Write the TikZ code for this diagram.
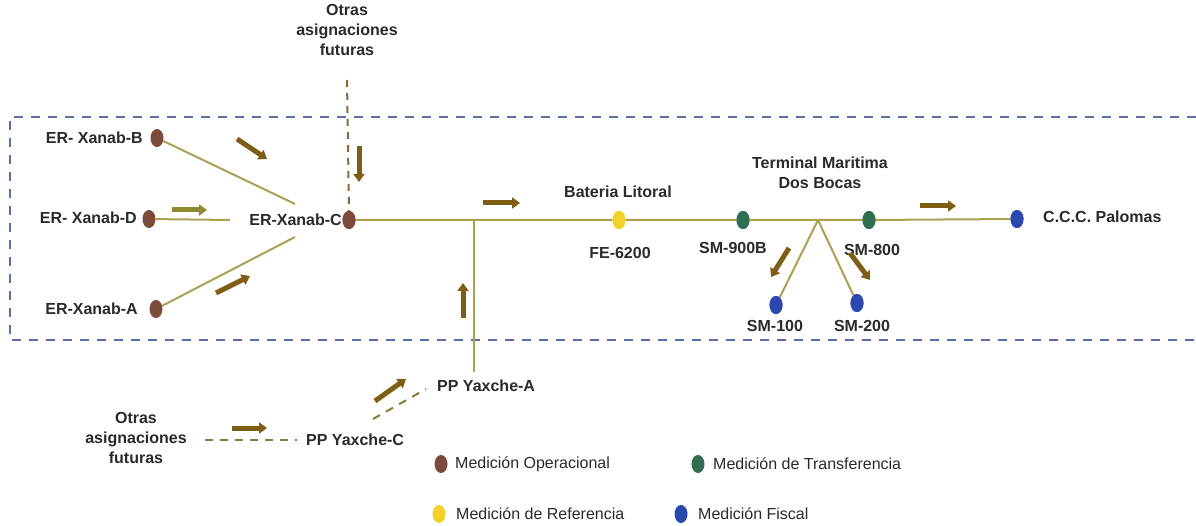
\documentclass[tikz,border=0pt]{standalone}
\usepackage{fontspec}
\setmainfont{Liberation Sans}
\usetikzlibrary{arrows.meta,shapes.geometric}
\definecolor{pipe}{HTML}{ADA053}
\definecolor{flow}{HTML}{7D5E14}
\definecolor{flowb}{HTML}{8F8A2E}
\definecolor{boxc}{HTML}{5A6FAA}
\definecolor{futc}{HTML}{8A6A35}
\definecolor{futc2}{HTML}{8C7A30}
\definecolor{opc}{HTML}{7B4A3A}
\definecolor{trc}{HTML}{2F6F4F}
\definecolor{rfc}{HTML}{F0D22A}
\definecolor{fic}{HTML}{2B48B0}
\definecolor{txt}{HTML}{2A2A2A}
\tikzset{
  lbl/.style={font=\fontsize{16}{20}\selectfont\bfseries, text=txt, inner sep=0pt, align=center},
  leg/.style={font=\fontsize{16}{20}\selectfont, text=txt, inner sep=0pt, anchor=west},
  dot/.style={ellipse, minimum width=13pt, minimum height=18pt, inner sep=0pt, fill=#1},
  pipeline/.style={draw=pipe, line width=2pt},
  flowarrow/.style={draw=flow, line width=5pt, -{Triangle[length=8pt,width=11pt]}},
  flowarrowb/.style={draw=flowb, line width=5pt, -{Triangle[length=8pt,width=11pt]}},
  boxline/.style={draw=boxc, line width=1.8pt, dash pattern=on 9pt off 8pt},
  futline/.style={draw=futc, line width=2pt, dash pattern=on 7pt off 6pt},
  futline2/.style={draw=futc2, line width=2pt, dash pattern=on 8pt off 7pt},
}
\begin{document}
\begin{tikzpicture}[x=1pt,y=-1pt]
\useasboundingbox[fill=white] (0,0) rectangle (1196,526);
% dashed boundary
\draw[boxline] (1196,117) -- (10,117) -- (10,340) -- (1196,340);

% top "otras"
\node[lbl] (otras1) at (347,30) {Otras\\asignaciones\\futuras};
\coordinate (futtop) at (347,80);

% nodes
\node[dot=opc] (erB) at (157,138) {};
\node[lbl, anchor=east] (erBl) at (143,138) {ER- Xanab-B};
\node[dot=opc] (erD) at (149,219) {};
\node[lbl, anchor=east] (erDl) at (137,218) {ER- Xanab-D};
\node[dot=opc] (erA) at (156,309) {};
\node[lbl, anchor=east] (erAl) at (138,309) {ER-Xanab-A};
\node[dot=opc] (erC) at (349,220) {};
\node[lbl, anchor=east] (erCl) at (342,220) {ER-Xanab-C};

\coordinate (cB) at (295,204);
\coordinate (cD) at (230,220);
\coordinate (cA) at (295,237);
\coordinate (j1) at (474,220);
\coordinate (jT) at (818,220);
\coordinate (ppA) at (474,372);

\node[dot=rfc] (fe) at (619,220) {};
\node[dot=trc] (sm900) at (743,220) {};
\node[dot=trc] (sm800) at (869,220) {};
\node[dot=fic] (pal) at (1017,219) {};
\node[dot=fic] (sm100) at (776,305) {};
\node[dot=fic] (sm200) at (857,303) {};

\node[lbl] (batl) at (618,192) {Bateria Litoral};
\node[lbl] (fel) at (620,253) {FE-6200};
\node[lbl] (sm900l) at (733,248) {SM-900B};
\node[lbl] (term) at (820,173) {Terminal Maritima\\Dos Bocas};
\node[lbl] (sm800l) at (872,250) {SM-800};
\node[lbl, anchor=west] (pall) at (1043,217) {C.C.C. Palomas};
\node[lbl] (sm100l) at (775,326) {SM-100};
\node[lbl] (sm200l) at (862,326) {SM-200};

\node[lbl, anchor=west] (ppAl) at (437,386) {PP Yaxche-A};
\node[lbl, anchor=west] (ppCl) at (306,440) {PP Yaxche-C};
\node[lbl] (otras2) at (136,438) {Otras\\asignaciones\\futuras};

% pipelines
\draw[pipeline] (erB) -- (cB);
\draw[pipeline] (erD) -- (cD);
\draw[pipeline] (erA) -- (cA);
\draw[pipeline] (erC) -- (fe) -- (sm900) -- (sm800) -- (pal);
\draw[pipeline] (j1) -- (ppA);
\draw[pipeline] (jT) -- (sm100);
\draw[pipeline] (jT) -- (sm200);
% redraw dots on top
\node[dot=opc] at (erC) {};
\node[dot=rfc] at (fe) {};
\node[dot=trc] at (sm900) {};
\node[dot=trc] at (sm800) {};
\node[dot=fic] at (pal) {};
\node[dot=fic] at (sm100) {};
\node[dot=fic] at (sm200) {};

% future dashed lines
\draw[futline] (futtop) -- (erC.north);
\coordinate (fl1) at (205,440);
\coordinate (fl2) at (297,440);
\draw[futline2] (fl1) -- (fl2);
\coordinate (fd1) at (373,419);
\coordinate (fd2) at (426,389);
\draw[futline2] (fd1) -- (fd2);

% flow arrows
\coordinate (a1s) at (237,139); \coordinate (a1e) at (267,159);
\draw[flowarrow] (a1s) -- (a1e);
\coordinate (a2s) at (172,210); \coordinate (a2e) at (207,210);
\draw[flowarrowb] (a2s) -- (a2e);
\coordinate (a3s) at (216,293); \coordinate (a3e) at (250,276);
\draw[flowarrow] (a3s) -- (a3e);
\coordinate (a4s) at (359,146); \coordinate (a4e) at (359,182);
\draw[flowarrow] (a4s) -- (a4e);
\coordinate (a5s) at (483,203); \coordinate (a5e) at (520,203);
\draw[flowarrow] (a5s) -- (a5e);
\coordinate (a6s) at (463,318); \coordinate (a6e) at (463,283);
\draw[flowarrow] (a6s) -- (a6e);
\coordinate (a7s) at (789,248); \coordinate (a7e) at (771,277);
\draw[flowarrow] (a7s) -- (a7e);
\coordinate (a8s) at (850,253); \coordinate (a8e) at (870,280);
\draw[flowarrow] (a8s) -- (a8e);
\coordinate (a9s) at (920,206); \coordinate (a9e) at (956,206);
\draw[flowarrow] (a9s) -- (a9e);
\coordinate (a10s) at (375,401); \coordinate (a10e) at (406,379);
\draw[flowarrow] (a10s) -- (a10e);
\coordinate (a11s) at (232,428); \coordinate (a11e) at (267,428);
\draw[flowarrow] (a11s) -- (a11e);

% legend
\node[dot=opc] (lg1) at (441,464) {};
\node[leg] (lg1t) at (455,464) {Medición Operacional};
\node[dot=trc] (lg2) at (698,464) {};
\node[leg] (lg2t) at (713,464) {Medición de Transferencia};
\node[dot=rfc] (lg3) at (439,514) {};
\node[leg] (lg3t) at (456,514) {Medición de Referencia};
\node[dot=fic] (lg4) at (681,514) {};
\node[leg] (lg4t) at (698,514) {Medición Fiscal};
\end{tikzpicture}
\end{document}
